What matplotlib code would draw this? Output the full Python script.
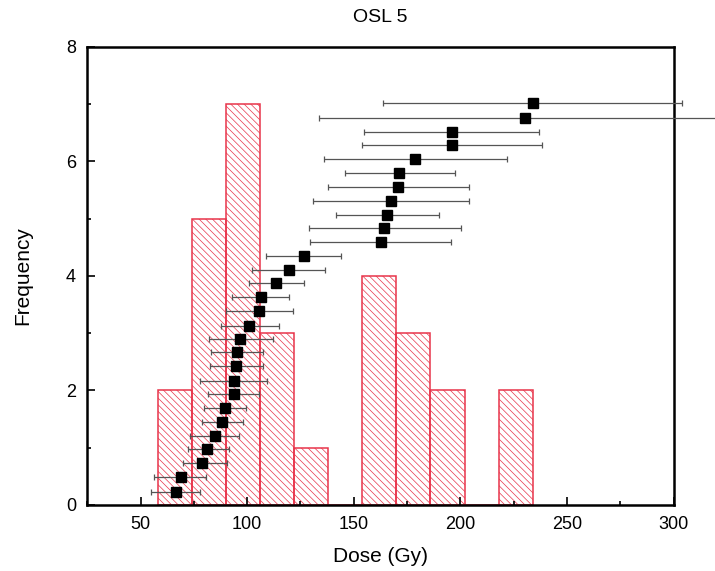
import matplotlib
matplotlib.use("Agg")
import matplotlib.pyplot as plt
from matplotlib.ticker import MultipleLocator

plt.rcParams['font.family'] = ['Liberation Sans', 'DejaVu Sans']
plt.rcParams['hatch.color'] = '#f07a86'
plt.rcParams['hatch.linewidth'] = 0.5

# histogram of equivalent doses (bin left edges, width 16 Gy)
bin_left = [58, 74, 90, 106, 122, 138, 154, 170, 186, 202, 218]
bin_count = [2, 5, 7, 3, 1, 0, 4, 3, 2, 0, 2]
bin_width = 16

# individual aliquots: dose, error bar ends, cumulative rank position
dose = [66.8, 69.0, 78.8, 81.4, 85.0, 88.2, 89.5, 93.7, 93.8, 94.6,
        95.2, 96.5, 101.1, 105.4, 106.6, 113.4, 119.7, 126.5, 162.7, 164.4,
        165.6, 167.3, 170.9, 171.4, 178.7, 196.1, 196.1, 230.1, 234.3]
dose_lo = [54.8, 56.1, 69.9, 72.1, 73.3, 78.8, 79.9, 81.6, 78.0, 82.7,
           83.2, 81.9, 87.8, 90.3, 92.9, 100.7, 102.3, 108.9, 129.7, 128.9,
           141.9, 130.7, 138.1, 145.7, 136.2, 154.1, 155.0, 133.5, 163.7]
dose_hi = [78.0, 80.8, 90.6, 91.3, 96.0, 98.1, 99.6, 105.8, 109.4, 107.5,
           107.5, 112.2, 114.8, 121.4, 119.5, 126.8, 136.4, 144.2, 195.8, 200.5,
           190.2, 204.3, 204.3, 197.7, 221.8, 238.5, 237.1, 330.0, 304.0]
rank = [0.23, 0.48, 0.73, 0.97, 1.20, 1.44, 1.69, 1.93, 2.17, 2.42,
        2.66, 2.90, 3.13, 3.39, 3.63, 3.87, 4.10, 4.35, 4.59, 4.83,
        5.07, 5.31, 5.55, 5.80, 6.04, 6.28, 6.52, 6.76, 7.01]

fig = plt.figure(figsize=(7.15, 5.71), dpi=100)
ax = fig.add_axes([0.122, 0.116, 0.820, 0.802])

ax.bar(bin_left, bin_count, width=bin_width, align='edge', facecolor='none',
       edgecolor='#e8344a', linewidth=1.1, hatch='\\' * 5, zorder=1)

xerr = [[d - lo for d, lo in zip(dose, dose_lo)],
        [hi - d for d, hi in zip(dose, dose_hi)]]
eb = ax.errorbar(dose, rank, xerr=xerr, fmt='s', color='black', markersize=7,
                 ecolor='#555555', elinewidth=0.9, capsize=2.5, capthick=0.9, zorder=3)
# the widest error bar runs past the frame in the original
for artist in list(eb.lines[1]) + list(eb.lines[2]):
    artist.set_clip_on(False)

ax.set_xlim(25, 300)
ax.set_ylim(0, 8)
ax.xaxis.set_major_locator(MultipleLocator(50))
ax.xaxis.set_minor_locator(MultipleLocator(25))
ax.yaxis.set_major_locator(MultipleLocator(2))
ax.yaxis.set_minor_locator(MultipleLocator(1))
ax.tick_params(which='both', direction='in', labelsize=13, width=1.2)
ax.tick_params(which='major', length=6, pad=8)
ax.tick_params(which='minor', length=3)
for s in ax.spines.values():
    s.set_linewidth(1.8)

ax.set_xlabel('Dose (Gy)', fontsize=15, labelpad=10)
ax.set_ylabel('Frequency', fontsize=15, labelpad=24)
ax.set_title('OSL 5', fontsize=14, pad=18)

fig.savefig('out.png', dpi=100)
